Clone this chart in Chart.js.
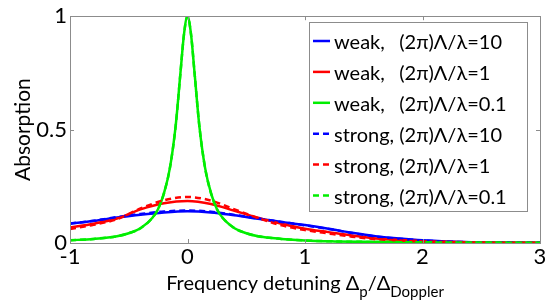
<!DOCTYPE html>
<html>
<head>
<meta charset="utf-8">
<script src="https://cdn.jsdelivr.net/npm/chart.js@4.4.1/dist/chart.umd.min.js"></script>
<style>
  html, body { margin: 0; padding: 0; background: #fff; }
  #wrap { width: 553px; height: 305px; }
</style>
</head>
<body>
<div id="wrap"><canvas id="chart" width="553" height="305"></canvas></div>
<script>
// detuning grid for the broad (Doppler) curves
const xBroad = [-1, -0.8, -0.6, -0.4, -0.2, 0, 0.2, 0.4, 0.6, 0.8, 1.0, 1.2, 1.4, 1.6, 1.8, 2.0, 2.2, 2.5, 3];
const weak10   = [0.085, 0.097, 0.112, 0.125, 0.135, 0.140, 0.135, 0.122, 0.107, 0.093, 0.079, 0.063, 0.045, 0.030, 0.020, 0.012, 0.007, 0.003, 0.001];
const strong10 = [0.086, 0.098, 0.114, 0.128, 0.139, 0.143, 0.138, 0.124, 0.108, 0.093, 0.078, 0.062, 0.044, 0.029, 0.019, 0.011, 0.006, 0.003, 0.001];
const weak1    = [0.068, 0.085, 0.108, 0.148, 0.175, 0.185, 0.172, 0.142, 0.112, 0.085, 0.063, 0.048, 0.033, 0.020, 0.013, 0.008, 0.005, 0.002, 0.001];
const strong1  = [0.062, 0.080, 0.105, 0.152, 0.188, 0.203, 0.187, 0.148, 0.110, 0.078, 0.057, 0.042, 0.028, 0.017, 0.011, 0.007, 0.004, 0.002, 0.001];

// finer grid for the narrow peak
const xNarrow = [-1, -0.8, -0.6, -0.5, -0.4, -0.3, -0.25, -0.2, -0.15, -0.1, -0.06, -0.03, 0, 0.03, 0.06, 0.1, 0.15, 0.2, 0.25, 0.3, 0.4, 0.5, 0.6, 0.8, 1, 1.25, 1.5, 2, 2.5, 3];
const weak01   = [0.012, 0.018, 0.030, 0.043, 0.065, 0.110, 0.150, 0.220, 0.330, 0.520, 0.750, 0.920, 1.000, 0.920, 0.750, 0.520, 0.330, 0.220, 0.150, 0.110, 0.065, 0.043, 0.030, 0.018, 0.011, 0.007, 0.005, 0.003, 0.002, 0.001];
const strong01 = [0.012, 0.018, 0.030, 0.043, 0.065, 0.110, 0.150, 0.220, 0.330, 0.520, 0.750, 0.920, 1.000, 0.920, 0.750, 0.520, 0.330, 0.220, 0.150, 0.110, 0.065, 0.043, 0.030, 0.018, 0.011, 0.007, 0.005, 0.003, 0.002, 0.001];

const xTicks = [-1, 0, 1, 2, 3];
const yTicks = [0, 0.5, 1];

const labels = [
  'weak, (2π)Λ/λ=10', 'weak, (2π)Λ/λ=1', 'weak, (2π)Λ/λ=0.1',
  'strong, (2π)Λ/λ=10', 'strong, (2π)Λ/λ=1', 'strong, (2π)Λ/λ=0.1'
];
const colors = ['#0000ff', '#ff0000', '#00ee00', '#0000ff', '#ff0000', '#00ee00'];

const FONT = 'Lato, "Liberation Serif", sans-serif';
const toPoints = (xs, ys) => xs.map((x, i) => ({ x, y: ys[i] }));
const series = [
  toPoints(xBroad, weak10), toPoints(xBroad, weak1), toPoints(xNarrow, weak01),
  toPoints(xBroad, strong10), toPoints(xBroad, strong1), toPoints(xNarrow, strong01)
];

const datasets = series.map((data, i) => ({
  label: labels[i],
  data,
  borderColor: colors[i],
  borderWidth: 2.5,
  borderDash: i >= 3 ? [6, 4] : [],
  pointRadius: 0,
  fill: false,
  cubicInterpolationMode: 'monotone',
  order: 6 - i
}));

const decorations = {
  id: 'decorations',
  afterDatasetsDraw(chart) {
    const { ctx, chartArea: a, scales } = chart;
    ctx.save();
    ctx.strokeStyle = '#8c8c8c';
    ctx.lineWidth = 1;
    ctx.strokeRect(Math.round(a.left) + 0.5, Math.round(a.top) + 0.5, Math.round(a.right - a.left), Math.round(a.bottom - a.top));
    ctx.beginPath();
    xTicks.forEach(v => {
      const px = Math.round(scales.x.getPixelForValue(v)) + 0.5;
      ctx.moveTo(px, a.bottom); ctx.lineTo(px, a.bottom - 4);
      ctx.moveTo(px, a.top); ctx.lineTo(px, a.top + 4);
    });
    yTicks.forEach(v => {
      const py = Math.round(scales.y.getPixelForValue(v)) + 0.5;
      ctx.moveTo(a.left, py); ctx.lineTo(a.left + 4, py);
      ctx.moveTo(a.right, py); ctx.lineTo(a.right - 4, py);
    });
    ctx.stroke();
    ctx.restore();
  },
  afterDraw(chart) {
    const { ctx, chartArea: a } = chart;
    ctx.save();

    // legend box
    const bx = 309.5, by = 22.5, bw = 218, bh = 189;
    ctx.fillStyle = '#fff';
    ctx.fillRect(bx, by, bw, bh);
    ctx.strokeStyle = '#8c8c8c';
    ctx.lineWidth = 1;
    ctx.strokeRect(bx, by, bw, bh);
    ctx.font = '20px ' + FONT;
    ctx.textBaseline = 'middle';
    ctx.fillStyle = '#000';
    const restX = 334 + ctx.measureText('strong, ').width;
    chart.data.datasets.forEach((ds, i) => {
      const ty = 43 + i * 30.9;
      ctx.beginPath();
      ctx.strokeStyle = ds.borderColor;
      ctx.lineWidth = 2.5;
      ctx.setLineDash(ds.borderDash);
      ctx.moveTo(313, ty - 2);
      ctx.lineTo(330, ty - 2);
      ctx.stroke();
      ctx.setLineDash([]);
      const cut = ds.label.indexOf(' ');
      ctx.fillText(ds.label.slice(0, cut), 334, ty);
      ctx.fillText(ds.label.slice(cut + 1), restX, ty);
    });

    // x axis title with subscripts
    const big = '20px ' + FONT, small = '15px ' + FONT;
    const parts = [
      ['Frequency detuning ', big, 0], ['Δ', big, 0], ['p', small, 7],
      ['/', big, 0], ['Δ', big, 0], ['Doppler', small, 7]
    ];
    let total = 0;
    parts.forEach(p => { ctx.font = p[1]; total += ctx.measureText(p[0]).width; });
    let x = (a.left + a.right) / 2 - total / 2;
    ctx.textBaseline = 'alphabetic';
    parts.forEach(p => {
      ctx.font = p[1];
      ctx.fillText(p[0], x, 290 + p[2]);
      x += ctx.measureText(p[0]).width;
    });
    ctx.restore();
  }
};

new Chart(document.getElementById('chart'), {
  type: 'line',
  data: { datasets },
  options: {
    responsive: false,
    animation: false,
    devicePixelRatio: 1,
    layout: { padding: { left: 0, right: 13, top: 14, bottom: 0 } },
    plugins: { legend: { display: false }, tooltip: { enabled: false } },
    scales: {
      x: {
        type: 'linear', min: -1, max: 3,
        afterBuildTicks: s => { s.ticks = xTicks.map(v => ({ value: v })); },
        afterFit: s => { s.height = 62; },
        ticks: { color: '#000', font: { family: FONT, size: 22 }, padding: 1, maxRotation: 0, callback: v => String(v) },
        grid: { display: false, drawTicks: false },
        border: { display: false }
      },
      y: {
        type: 'linear', min: 0, max: 1,
        afterBuildTicks: s => { s.ticks = yTicks.map(v => ({ value: v })); },
        afterFit: s => { s.width = 70; },
        ticks: { color: '#000', font: { family: FONT, size: 22 }, padding: 3, callback: v => String(v) },
        grid: { display: false, drawTicks: false },
        border: { display: false },
        title: { display: true, text: 'Absorption', color: '#000', font: { family: FONT, size: 21 }, padding: { top: 11, bottom: 0 } }
      }
    }
  },
  plugins: [decorations]
});
</script>
</body>
</html>
